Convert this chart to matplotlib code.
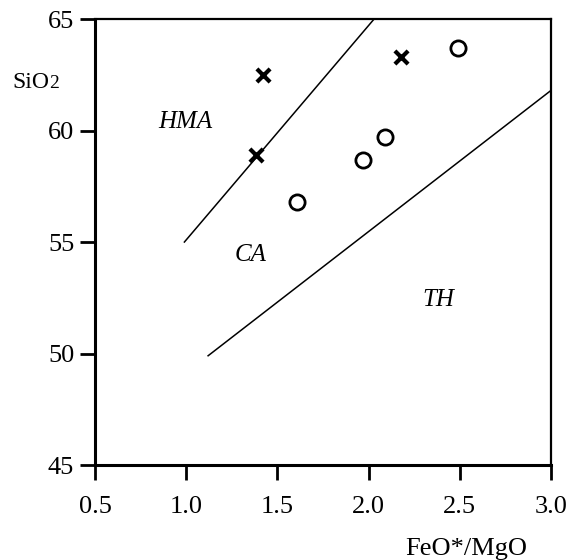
import matplotlib
matplotlib.use("Agg")
import matplotlib.pyplot as plt

# 字型：Times 風格
plt.rcParams["font.family"] = ["Liberation Serif", "DejaVu Serif"]

# 資料
cross_x = [1.42, 1.38, 2.18]
cross_y = [62.5, 58.9, 63.3]
circle_x = [2.49, 2.09, 1.97, 1.61]
circle_y = [63.7, 59.7, 58.7, 56.8]

# 分界線 (x, y)
hma_line_x = [0.99, 2.03]
hma_line_y = [55.0, 65.0]
th_line_x = [1.12, 3.0]
th_line_y = [49.9, 61.8]

xticks = [0.5, 1.0, 1.5, 2.0, 2.5, 3.0]
yticks = [45, 50, 55, 60, 65]

fig = plt.figure(figsize=(5.7, 5.6), dpi=100)
ax = fig.add_axes([0.1667, 0.1696, 0.80, 0.7964])

ax.plot(hma_line_x, hma_line_y, color="black", linewidth=1.1)
ax.plot(th_line_x, th_line_y, color="black", linewidth=1.1)

ax.scatter(circle_x, circle_y, s=120, facecolors="white", edgecolors="black",
           linewidths=2, zorder=3)
ax.scatter(cross_x, cross_y, s=90, marker="x", color="black",
           linewidths=3, zorder=3)

ax.text(0.993, 60.4, "HMA", fontsize=18, style="italic", ha="center", va="center")
ax.text(1.35, 54.4, "CA", fontsize=18, style="italic", ha="center", va="center")
ax.text(2.38, 52.4, "TH", fontsize=18, style="italic", ha="center", va="center")

ax.set_xlim(0.5, 3.0)
ax.set_ylim(45, 65)
ax.set_xticks(xticks)
ax.set_xticklabels([f"{t:.1f}" for t in xticks])
ax.set_yticks(yticks)

ax.tick_params(axis="both", direction="out", length=11, width=2, labelsize=19)
ax.tick_params(axis="x", pad=11)
ax.tick_params(axis="y", pad=4)
ax.tick_params(top=False, right=False)

for side in ["left", "bottom"]:
    ax.spines[side].set_linewidth(2.2)
for side in ["top", "right"]:
    ax.spines[side].set_linewidth(1.6)

# SiO2（2 字略小）
fig.text(0.021, 0.843, "SiO", fontsize=17, ha="left", va="baseline")
fig.text(0.0855, 0.843, "2", fontsize=14, ha="left", va="baseline")
fig.text(0.818, 0.020, "FeO*/MgO", fontsize=19, ha="center", va="center")

plt.savefig("out.png", dpi=100)
